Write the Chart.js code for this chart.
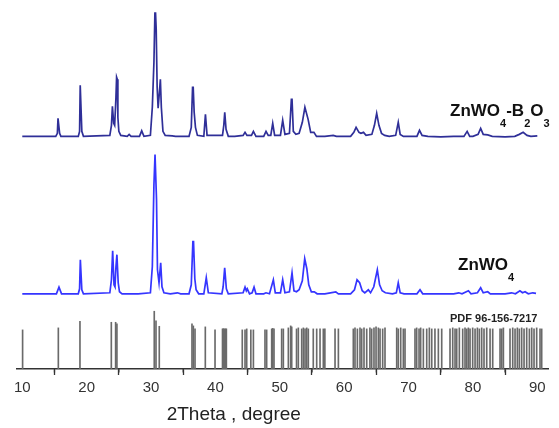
<!DOCTYPE html>
<html>
<head>
<meta charset="utf-8">
<script src="https://cdn.jsdelivr.net/npm/chart.js@4.4.1/dist/chart.umd.min.js"></script>
<style>
  html, body { margin: 0; padding: 0; background: #fff; }
  #wrap { position: relative; width: 559px; height: 428px; overflow: hidden; }
  #c { position: absolute; left: 0; top: 0; }
  .lbl { position: absolute; font-family: "Liberation Sans", Arial, sans-serif; line-height: 1; white-space: nowrap; color: #111; }
  .sample { font-size: 17px; font-weight: bold; }
  .sample .sb { font-size: 11px; vertical-align: -11px; }
  .pdf { font-size: 11px; font-weight: bold; color: #222; }
  .axtitle { font-size: 19px; color: #222; }
</style>
</head>
<body>
<div id="wrap">
  <canvas id="c" width="559" height="428"></canvas>
  <div class="lbl sample" style="left:450px; top:101.6px;">ZnWO<span class="sb">4</span>-B<span class="sb">2</span>O<span class="sb">3</span></div>
  <div class="lbl sample" style="left:458px; top:256.3px;">ZnWO<span class="sb">4</span></div>
  <div class="lbl pdf" style="left:450px; top:313.4px;">PDF 96-156-7217</div>
  <div class="lbl axtitle" style="left:166.7px; top:403.9px;">2Theta , degree</div>
</div>
<script>
// ---- data (2Theta in degree, intensity in a.u.) ----
const twoThetaB2O3 = [10.0,15.2,15.45,15.55,15.65,15.8,16.0,18.7,18.9,19.0,19.1,19.25,19.5,23.6,23.85,24.0,24.2,24.35,24.55,24.65,24.75,24.85,25.0,25.3,26.3,26.6,26.9,28.2,28.55,28.9,29.9,30.2,30.45,30.6,30.7,30.8,30.95,31.1,31.3,31.45,31.6,31.85,32.2,33.3,33.8,35.9,36.25,36.45,36.55,36.7,36.9,37.2,38.2,38.45,38.7,41.1,41.3,41.45,41.65,42.0,43.0,44.3,44.6,44.9,45.6,45.9,46.3,47.5,47.86,48.2,48.6,48.9,49.2,50.1,50.45,50.8,51.5,51.8,51.9,52.1,52.5,53.0,53.5,53.9,54.4,54.8,55.3,55.7,57.0,58.3,58.8,61.0,61.5,61.85,62.3,62.6,63.0,63.4,64.3,64.7,65.05,65.4,65.8,66.3,67.0,68.0,68.4,68.7,69.2,71.3,71.7,72.1,73.0,75.0,77.0,78.6,79.1,79.5,80.0,80.8,81.2,81.6,82.3,83.0,85.0,86.5,87.2,87.8,88.4,89.0,90.0];
const intensityB2O3 = [1,1,4,19,19,4,1,1,6,52,52,6,1,2,12,31,14,12,40,60,58,20,6,2,1,3,1,1,6.5,1,2,30,75,124,124,108,50,29,45,58,30,6,2,1.5,1,1,10,50,50,25,10,2,1,23,2,2,12,25,8,1,1,2,5,2,2,6,1,1,6,2,2,14,2,2,17,3,4,38,38,6,3,4,15,30,18,5,5,1,1,2,1,1,5,10,5,4,5,2,3,12,24,12,4,2,1,2,15,3,1,1,7,2,1,0.5,1,1,6,1,1,3,9,3,2.5,1,0.5,1,3,5,2,1,1.5];

const twoThetaZnWO4 = [10.0,15.3,15.7,16.1,18.7,18.9,19.02,19.12,19.25,19.5,23.6,23.85,24.04,24.25,24.4,24.55,24.7,24.9,25.1,25.5,28.0,29.9,30.2,30.45,30.62,30.72,30.85,31.0,31.24,31.5,31.7,32.0,33.0,34.1,34.6,35.9,36.25,36.5,36.6,36.8,37.0,37.4,38.2,38.58,38.9,41.0,41.2,41.44,41.7,42.0,44.3,44.6,44.8,44.95,45.3,45.7,46.0,46.3,47.5,47.86,48.4,49.0,49.3,50.1,50.45,50.8,51.5,51.9,52.2,52.6,53.0,53.5,53.87,54.2,54.5,54.9,55.36,55.8,57.0,58.7,59.1,61.0,61.6,62.0,62.4,62.8,63.2,63.75,64.1,64.6,65.15,65.5,65.9,66.4,67.5,68.1,68.4,68.7,69.3,71.3,71.78,72.2,74.0,77.0,77.8,78.3,79.3,79.7,80.7,81.2,81.6,82.3,82.7,85.0,86.0,86.6,87.3,87.7,88.1,88.6,89.3,89.8];
const intensityZnWO4 = [1,1,7.7,1,1,6,35,35,5,1,2,15,44,10,8,28,40,12,3,1,1,2,28,110,140,140,95,25,12,32,8,2,1,2,1,1,10,53,53,16,5,1,1,17,2,1,8,27,6,1,2,7.6,4,6,1,2,7.6,1,1,2,1,15,2,2,15,2,3,22,4,3,5,14,36,26,10,3,3,1,1,3,1,1,5,15,12,4,2,5,2,8,25,10,4,2,1,2,12,2,1,1,5,1,1,1,2,1,4,1,2,7,2,3,1,1,2,1,4,2,3,1,2,1.5];

const pdfPositions = [10.05,15.6,18.96,23.83,24.5,24.7,30.5,30.77,31.28,36.36,36.57,36.83,38.43,39.94,41.1,41.2,41.3,41.45,41.6,41.7,44.17,44.6,44.86,45.5,45.9,47.7,47.96,48.9,48.74,49.1,50.29,50.55,51.33,51.69,51.85,52.6,52.88,53.4,53.66,53.92,54.18,54.43,55.2,55.73,56.25,56.76,57.0,58.58,59.1,61.42,61.68,62.05,62.46,62.72,63.08,63.5,64.0,64.27,64.63,64.95,65.31,65.57,65.98,66.34,68.16,68.4,68.78,69.19,69.45,71.0,71.26,71.63,71.88,72.3,72.82,73.23,73.6,74.1,74.63,75.15,76.44,76.86,77.22,77.48,77.89,78.41,78.77,79.03,79.29,79.55,79.96,80.33,80.69,81.0,81.36,81.72,82.14,82.66,83.07,84.21,84.47,84.73,85.76,86.18,86.54,86.9,87.21,87.57,87.94,88.35,88.77,89.13,89.49,89.9,90.42,90.68];
const pdfIntensity = [39,41,47.6,46.6,46.6,45,57.6,48,42.6,45,43,40,42,39,40,40,40,40,40,40,39,39,40,39,39,39,39,40.5,40,40,40,40,41,43,42,40,41,40,41,40,41,40,40,40,40,40,40,40,40,40,41,40,41,40,41,40,41,40,41,42,41,40,40,41,41,40,41,40,40,40,41,40,41,40,40,41,40,40,40,40,40,41,40,40,41,40,41,40,41,40,41,40,41,40,41,40,41,40,40,40,40,41,40,41,40,41,40,41,40,41,40,41,40,41,40,40];

const xTickLabels = [10,20,30,40,50,60,70,80,90];

// vertical stacking offsets of the patterns
const offsetZnWO4 = 74;
const offsetB2O3 = 231;

const minorTicks = {
  id: 'minorTicks',
  afterDraw(chart) {
    const s = chart.scales.x, ctx = chart.ctx, y0 = chart.chartArea.bottom;
    ctx.save();
    ctx.strokeStyle = '#333';
    ctx.lineWidth = 1.3;
    for (let v = 15; v <= 85; v += 10) {
      const px = s.getPixelForValue(v);
      ctx.beginPath(); ctx.moveTo(px, y0); ctx.lineTo(px, y0 + 3.5); ctx.stroke();
    }
    ctx.restore();
  }
};

new Chart(document.getElementById('c'), {
  type: 'bar',
  data: {
    datasets: [
      {
        type: 'line',
        data: twoThetaB2O3.map((x, i) => ({ x, y: intensityB2O3[i] + offsetB2O3 })),
        borderColor: '#2f2f98',
        borderWidth: 1.7,
        pointRadius: 0,
        tension: 0,
        fill: false
      },
      {
        type: 'line',
        data: twoThetaZnWO4.map((x, i) => ({ x, y: intensityZnWO4[i] + offsetZnWO4 })),
        borderColor: '#3535ff',
        borderWidth: 1.7,
        pointRadius: 0,
        tension: 0,
        fill: false
      },
      {
        type: 'bar',
        data: pdfPositions.map((x, i) => ({ x, y: pdfIntensity[i] })),
        backgroundColor: '#6a6a6a',
        borderWidth: 0,
        barThickness: 1
      }
    ]
  },
  options: {
    responsive: false,
    animation: false,
    layout: { padding: { left: 17, right: 11, top: 0, bottom: 27 } },
    plugins: { legend: { display: false }, tooltip: { enabled: false } },
    scales: {
      x: {
        type: 'linear',
        min: 9.18,
        max: 91.66,
        offset: false,
        afterBuildTicks(scale) { scale.ticks = xTickLabels.map(v => ({ value: v })); },
        ticks: { color: '#333', font: { family: 'Liberation Sans', size: 15 }, padding: 4, maxRotation: 0, autoSkip: false },
        grid: { drawOnChartArea: false, drawTicks: true, tickLength: 6, tickColor: '#333', tickWidth: 1.3 },
        border: { display: true, color: '#333', width: 1.5 }
      },
      y: {
        display: false,
        min: 0,
        max: 368
      }
    }
  },
  plugins: [minorTicks]
});
</script>
</body>
</html>
